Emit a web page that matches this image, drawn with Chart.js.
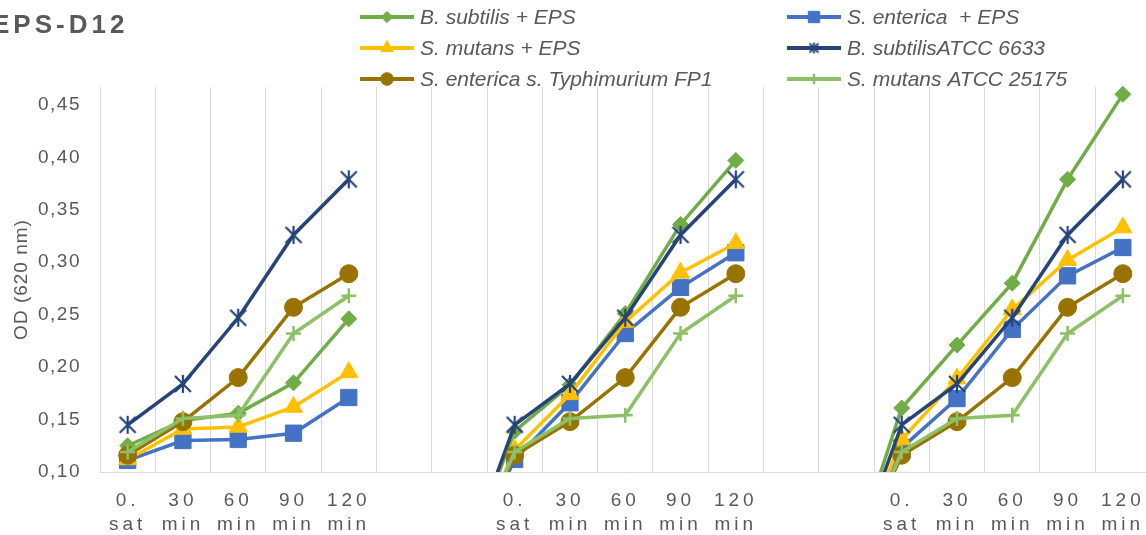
<!DOCTYPE html>
<html>
<head>
<meta charset="utf-8">
<script src="https://cdn.jsdelivr.net/npm/chart.js@4.4.1/dist/chart.umd.min.js"></script>
<style>
  html, body { margin: 0; padding: 0; overflow: hidden; background: #fff; }
  canvas { display: block; }
</style>
</head>
<body>
<canvas id="grafico" width="1163" height="535"></canvas>
<script>
// dados (3 blocos de 5 tempos, com 2 colunas vazias entre eles)
const titulo = 'EPS-D12';
const tempos = [['0.', 'sat'], ['30', 'min'], ['60', 'min'], ['90', 'min'], ['120', 'min']];
const rotulosVazios = ['', ''];
const valoresVazios = [null, 0];

const bSubtilisEps = [
  [0.125, 0.149, 0.156, 0.185, 0.246],
  [0.139, 0.183, 0.251, 0.336, 0.397],
  [0.161, 0.221, 0.280, 0.379, 0.460]
];
const sEntericaEps = [
  [0.111, 0.130, 0.131, 0.137, 0.171],
  [0.112, 0.166, 0.232, 0.276, 0.309],
  [0.123, 0.170, 0.236, 0.287, 0.314]
];
const sMutansEps = [
  [0.112, 0.141, 0.143, 0.162, 0.195],
  [0.121, 0.174, 0.243, 0.290, 0.318],
  [0.131, 0.189, 0.255, 0.302, 0.333]
];
const bSubtilisAtcc = [
  [0.145, 0.184, 0.247, 0.326, 0.379],
  [0.145, 0.184, 0.247, 0.326, 0.379],
  [0.145, 0.184, 0.247, 0.326, 0.379]
];
const sEntericaFp1 = [
  [0.116, 0.148, 0.190, 0.257, 0.289],
  [0.116, 0.148, 0.190, 0.257, 0.289],
  [0.116, 0.148, 0.190, 0.257, 0.289]
];
const sMutansAtcc = [
  [0.119, 0.151, 0.154, 0.232, 0.268],
  [0.119, 0.151, 0.154, 0.232, 0.268],
  [0.119, 0.151, 0.154, 0.232, 0.268]
];

const nomes = ['B. subtilis + EPS', 'S. enterica  + EPS', 'S. mutans + EPS',
  'B. subtilisATCC 6633', 'S. enterica s. Typhimurium FP1', 'S. mutans ATCC 25175'];
const series = [bSubtilisEps, sEntericaEps, sMutansEps, bSubtilisAtcc, sEntericaFp1, sMutansAtcc];

// estilos
const cores = ['#70AD47', '#4472C4', '#FFC000', '#264478', '#997300', '#8CC168'];

function asterisco(tam, cor, larg) {
  const c = document.createElement('canvas');
  c.width = tam; c.height = tam;
  const g = c.getContext('2d');
  g.strokeStyle = cor;
  g.lineWidth = larg;
  const m = 2, h = tam / 2;
  g.beginPath();
  g.moveTo(m, m); g.lineTo(tam - m, tam - m);
  g.moveTo(tam - m, m); g.lineTo(m, tam - m);
  g.moveTo(h, 1); g.lineTo(h, tam - 1);
  g.stroke();
  return c;
}

const marcadores = ['rectRot', 'rect', 'triangle', asterisco(20, cores[3], 2.2), 'circle', 'cross'];
const marcadoresLegenda = ['rectRot', 'rect', 'triangle', asterisco(13, cores[3], 2), 'circle', 'cross'];
const raios = [8, 11.5, 10.5, 9, 9, 7.5];
const bordas = [1, 1, 1, 1, 1, 2.5];

function juntar(blocos, vazio) {
  return [...blocos[0], ...vazio, ...blocos[1], ...vazio, ...blocos[2]];
}

const rotulos = juntar([tempos, tempos, tempos], rotulosVazios);

function comEspaco(scale, metodo, espaco) {
  if (scale[metodo]._espacado) return;
  const original = scale[metodo];
  const novo = function (...args) {
    const ctx = this.ctx;
    const antes = ctx.letterSpacing;
    ctx.letterSpacing = espaco;
    original.apply(this, args);
    ctx.letterSpacing = antes;
  };
  novo._espacado = true;
  scale[metodo] = novo;
}

const extras = {
  id: 'extras',
  beforeDraw(chart) {
    comEspaco(chart.scales.x, 'drawLabels', '4px');
    comEspaco(chart.scales.y, 'drawLabels', '1.5px');
    comEspaco(chart.scales.y, 'drawTitle', '1px');
  },
  afterDraw(chart) {
    const ctx = chart.ctx;
    ctx.save();
    ctx.font = 'bold 26px "Liberation Sans", Arial, sans-serif';
    ctx.letterSpacing = '4px';
    ctx.fillStyle = '#595959';
    ctx.textAlign = 'left';
    ctx.textBaseline = 'alphabetic';
    ctx.fillText(titulo, -8, 33);
    ctx.letterSpacing = '0px';

    // legenda em 2 colunas
    const colX = [360, 787];
    const linY = [17, 48, 79];
    chart.data.datasets.forEach((ds, i) => {
      const x0 = colX[i % 2];
      const y0 = linY[Math.floor(i / 2)];
      ctx.strokeStyle = ds.borderColor;
      ctx.lineWidth = 4;
      ctx.beginPath();
      ctx.moveTo(x0, y0);
      ctx.lineTo(x0 + 54, y0);
      ctx.stroke();
      ctx.fillStyle = ds.backgroundColor;
      ctx.lineWidth = bordas[i];
      Chart.helpers.drawPoint(ctx, {
        pointStyle: marcadoresLegenda[i],
        radius: raios[i] * 0.7,
        borderWidth: bordas[i],
        rotation: 0
      }, x0 + 27, y0);
      ctx.fillStyle = '#595959';
      ctx.font = 'italic 21px "Liberation Sans", Arial, sans-serif';
      ctx.textBaseline = 'middle';
      ctx.fillText(ds.label, x0 + 60, y0 + 1);
    });
    ctx.restore();
  }
};

Chart.defaults.font.family = '"Liberation Sans", Arial, sans-serif';
Chart.defaults.color = '#595959';

new Chart(document.getElementById('grafico'), {
  type: 'line',
  data: {
    labels: rotulos,
    datasets: series.map((s, i) => ({
      label: nomes[i],
      data: juntar(s, valoresVazios),
      borderColor: cores[i],
      backgroundColor: cores[i],
      borderWidth: 3.5,
      pointStyle: marcadores[i],
      pointRadius: raios[i],
      pointBorderWidth: bordas[i],
      pointBackgroundColor: cores[i],
      pointBorderColor: cores[i],
      tension: 0,
      spanGaps: false,
      order: series.length - i,
      clip: { left: 0, top: 10, right: 10, bottom: 0 }
    }))
  },
  options: {
    responsive: false,
    animation: false,
    devicePixelRatio: 1,
    layout: { padding: { top: 87, left: 0, right: 1, bottom: 0 } },
    plugins: {
      legend: { display: false },
      tooltip: { enabled: false }
    },
    scales: {
      x: {
        offset: true,
        grid: { offset: true, color: '#d9d9d9', drawTicks: false },
        border: { color: '#d9d9d9' },
        ticks: { autoSkip: false, maxRotation: 0, padding: 16, font: { size: 19, lineHeight: 1.3 } },
        afterFit(s) { s.height = 63; }
      },
      y: {
        min: 0.10,
        max: 0.467,
        grid: { display: false, drawTicks: false },
        border: { display: false },
        ticks: {
          stepSize: 0.05,
          includeBounds: false,
          padding: 19,
          font: { size: 19 },
          callback: v => v.toFixed(2).replace('.', ',')
        },
        title: {
          display: true,
          text: 'OD (620 nm)',
          font: { size: 19 },
          padding: { top: 10, bottom: 0 }
        },
        afterFit(s) { s.width = 100; }
      }
    }
  },
  plugins: [extras]
});
</script>
</body>
</html>
